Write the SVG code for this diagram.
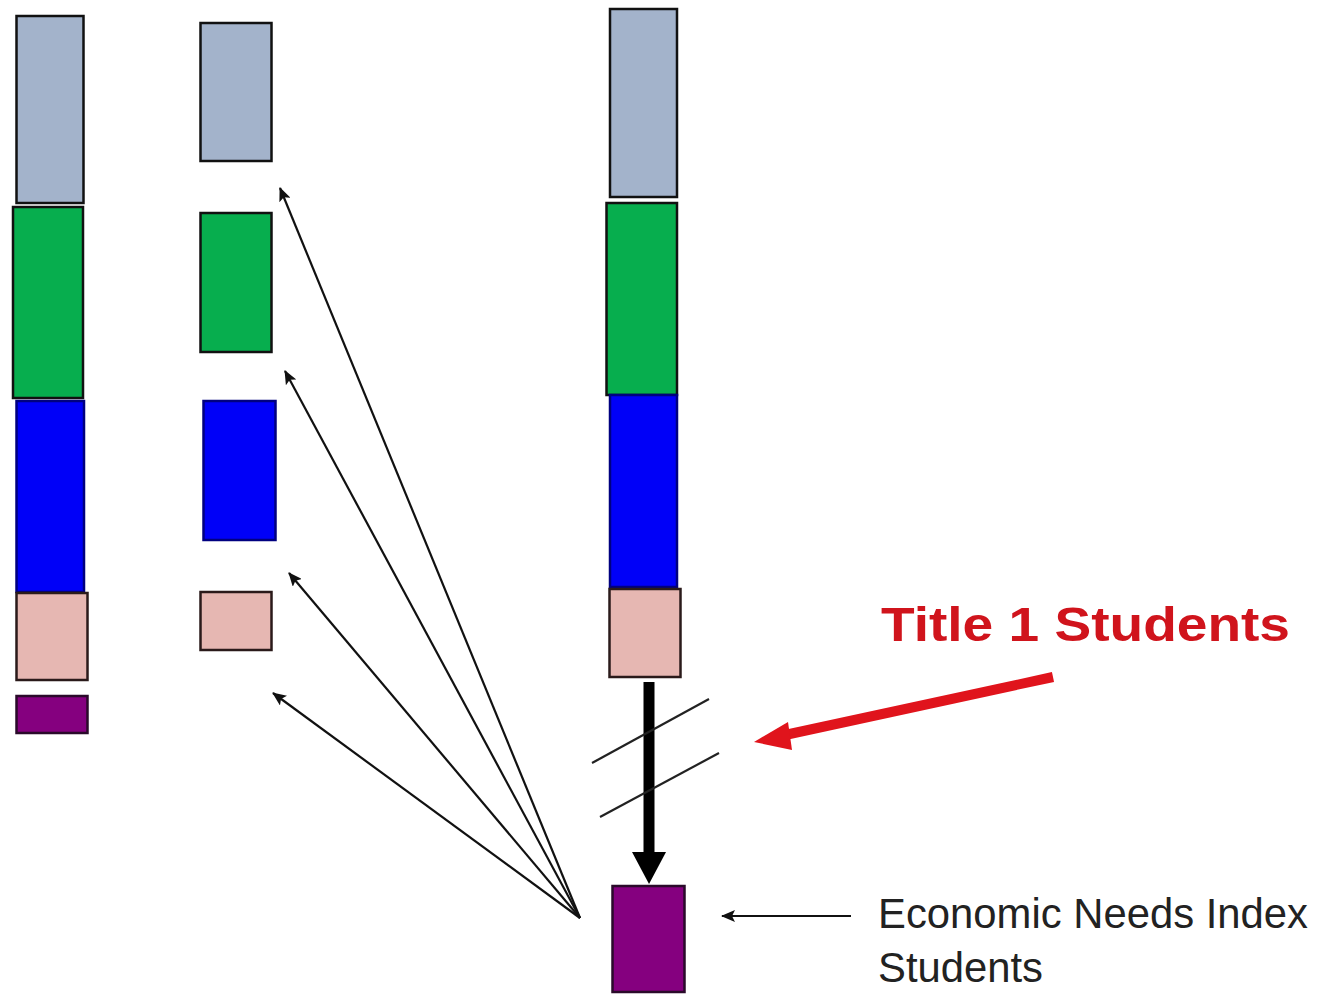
<svg xmlns="http://www.w3.org/2000/svg" width="1324" height="995" viewBox="0 0 1324 995">
<style>
.box{stroke:#111;stroke-width:2.5}
.gray{fill:#A3B3CB}
.green{fill:#07AE4E}
.blue{fill:#0000F8;stroke:#000080}
.pink{fill:#E6B7B2;stroke:#2a1a1a}
.purple{fill:#85007F;stroke:#2a0a2a}
.thin{stroke:#111;stroke-width:2.2;fill:none}
.lbl{font-family:"Liberation Sans",Arial,sans-serif;fill:#222}
.title{font-family:"Liberation Sans",Arial,sans-serif;font-weight:bold;fill:#D0141C}
</style>
<defs>
<marker id="ah" markerWidth="14" markerHeight="12" refX="13" refY="6" orient="auto" markerUnits="userSpaceOnUse" viewBox="0 0 14 12">
<path d="M0,0 L14,6 L0,12 L3,6 Z" fill="#111"/>
</marker>
</defs>
<rect width="1324" height="995" fill="#fff"/>
<g id="col1">
<rect id="c1-gray" class="box gray" x="16.5" y="16" width="67" height="187"/>
<rect id="c1-green" class="box green" x="13" y="207" width="70" height="191"/>
<rect id="c1-blue" class="box blue" x="16.5" y="401" width="67.5" height="191"/>
<rect id="c1-pink" class="box pink" x="16.5" y="593" width="71" height="87"/>
<rect id="c1-purple" class="box purple" x="16.5" y="696" width="71" height="37"/>
</g>
<g id="col2">
<rect id="c2-gray" class="box gray" x="200.5" y="23" width="71" height="138"/>
<rect id="c2-green" class="box green" x="200.5" y="213" width="71" height="139"/>
<rect id="c2-blue" class="box blue" x="203.5" y="401" width="72" height="139"/>
<rect id="c2-pink" class="box pink" x="200.5" y="592" width="71" height="58"/>
</g>
<g id="col3">
<rect id="c3-gray" class="box gray" x="610" y="9" width="67" height="188"/>
<rect id="c3-green" class="box green" x="606.5" y="203" width="70.5" height="192"/>
<rect id="c3-blue" class="box blue" x="610" y="395" width="67" height="192"/>
<rect id="c3-pink" class="box pink" x="609.5" y="589" width="71" height="88"/>
</g>
<g id="eni">
<rect id="eni-box" class="box purple" x="612.5" y="886" width="72" height="106"/>
</g>
<g id="connectors">
<line class="thin" x1="580" y1="918" x2="280" y2="188" marker-end="url(#ah)"/>
<line class="thin" x1="580" y1="918" x2="285" y2="371" marker-end="url(#ah)"/>
<line class="thin" x1="580" y1="918" x2="289" y2="573" marker-end="url(#ah)"/>
<line class="thin" x1="580" y1="918" x2="273" y2="693" marker-end="url(#ah)"/>
<line x1="649" y1="682" x2="649" y2="856" stroke="#000" stroke-width="11"/>
<path d="M632,852 L666,852 L649,884 Z" fill="#000"/>
<line x1="592" y1="763" x2="709" y2="699" stroke="#222" stroke-width="2.2"/>
<line x1="600" y1="817" x2="719" y2="753" stroke="#222" stroke-width="2.2"/>
<line x1="1053" y1="677" x2="785" y2="735" stroke="#E0141C" stroke-width="10"/>
<path d="M754,742 L788,722 L792,750 Z" fill="#E0141C"/>
<line class="thin" x1="851" y1="916" x2="722" y2="916" marker-end="url(#ah)"/>
</g>
<g id="labels">
<text class="title" x="881" y="641" font-size="49" textLength="409" lengthAdjust="spacingAndGlyphs">Title 1 Students</text>
<text class="lbl" x="878" y="928" font-size="42" textLength="430" lengthAdjust="spacingAndGlyphs">Economic Needs Index</text>
<text class="lbl" x="878" y="982" font-size="42" textLength="165" lengthAdjust="spacingAndGlyphs">Students</text>
</g>
</svg>
